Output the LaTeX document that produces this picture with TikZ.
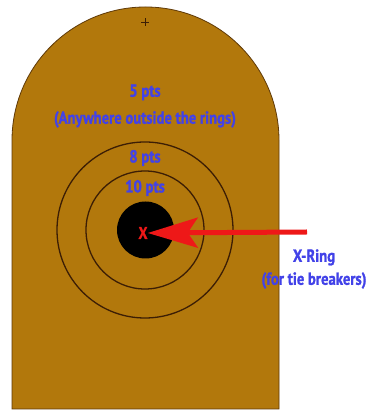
\documentclass[tikz,border=0pt]{standalone}
\usepackage{fontspec}
\newfontfamily\lblfont[FakeStretch=0.84,FakeBold=1.2]{PT Sans}
\usetikzlibrary{arrows.meta,positioning}
\definecolor{targetbrown}{RGB}{178,120,12}
\definecolor{ringline}{RGB}{60,30,5}
\definecolor{ptsblue}{RGB}{66,66,232}
\definecolor{xred}{RGB}{238,24,24}
\tikzset{
  target/.style={fill=targetbrown,draw=ringline!70!targetbrown,line width=0.8pt},
  ring/.style={draw=ringline,line width=1.3pt},
  ptslbl/.style={text=ptsblue,font=\lblfont\bfseries\fontsize{17.5}{27}\selectfont,
                 align=center,inner sep=1pt},
  xlbl/.style={text=xred,font=\lblfont\bfseries\fontsize{17}{17}\selectfont,inner sep=1pt},
  xarrow/.style={draw=xred,line width=5pt,
                 -{Stealth[length=50pt,width=30pt,inset=10pt]}},
}

\begin{document}
\begin{tikzpicture}[x=1pt,y=1pt]
  \useasboundingbox (0,0) rectangle (366,411);
  % target silhouette
  \draw[target] (12,2) -- (12,270.5) arc[start angle=180,end angle=0,radius=133.5]
    -- (279,2) -- cycle;
  \draw[ringline,line width=0.6pt] (141,389) -- (149,389) (145,385) -- (145,393);

  % scoring rings
  \draw[ring] (145,181) circle[radius=88];
  \draw[ring] (145,181) circle[radius=59];
  \fill[black] (145.5,181) circle[radius=28.5];

  \node[ptslbl] (pts5)  at (145,305) {5 pts\\(Anywhere outside the rings)};
  \node[ptslbl] (pts8)  at (145,253) {8 pts};
  \node[ptslbl] (pts10) at (145,223) {10 pts};
  \node[xlbl]   (xmark) at (143,178) {X};

  % x-ring pointer
  \coordinate (xtail) at (307,179);
  \draw[xarrow,shorten >=-1pt] (xtail) -- (xmark.east);
  \node[ptslbl,font=\lblfont\bfseries\fontsize{17.5}{23}\selectfont] (xring) at (314,142)
    {X-Ring\\(for tie breakers)};
\end{tikzpicture}
\end{document}
